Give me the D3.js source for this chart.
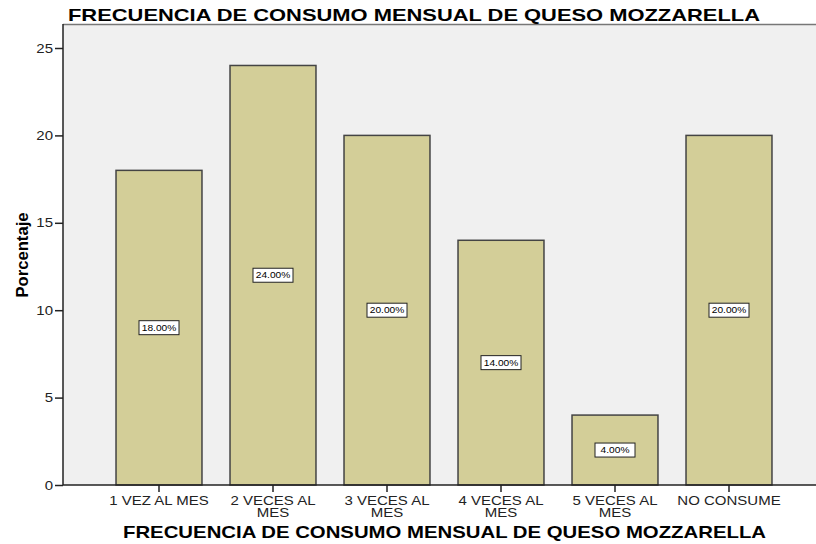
<!DOCTYPE html>
<html>
<head>
<meta charset="utf-8">
<script src="https://cdn.jsdelivr.net/npm/d3@7"></script>
<style>
  body { margin: 0; background: #fff; }
  text { font-family: Arial, "Liberation Sans", sans-serif; }
</style>
</head>
<body>
<script>
// chart data
var categories = [["1 VEZ AL MES"], ["2 VECES AL", "MES"], ["3 VECES AL", "MES"], ["4 VECES AL", "MES"], ["5 VECES AL", "MES"], ["NO CONSUME"]];
var percents = [18, 24, 20, 14, 4, 20];
var yTicks = [0, 5, 10, 15, 20, 25];
var titleText = "FRECUENCIA DE CONSUMO MENSUAL DE QUESO MOZZARELLA";

var W = 816, H = 544;
var plot = {left: 63, top: 24, right: 830, bottom: 485};
var stretch = 1.2; // reference text looks horizontally wide

var svg = d3.select("body").append("svg")
    .attr("width", W)
    .attr("height", H);

// scales
var x = d3.scaleBand()
    .domain(d3.range(categories.length))
    .range([102, 786])
    .paddingInner(0.246)
    .paddingOuter(0.123);
var y = d3.scaleLinear().domain([0, 25]).range([plot.bottom, 48]);

// plot background
svg.append("rect")
    .attr("x", plot.left).attr("y", plot.top)
    .attr("width", plot.right - plot.left).attr("height", plot.bottom - plot.top)
    .attr("fill", "#f0f0f0");
svg.append("line")
    .attr("x1", plot.left).attr("x2", plot.right)
    .attr("y1", plot.top + 0.5).attr("y2", plot.top + 0.5)
    .attr("stroke", "#777").attr("stroke-width", 1.5);

// bars
svg.selectAll(".bar")
    .data(percents)
  .enter().append("rect")
    .attr("class", "bar")
    .attr("x", function(d, i) { return x(i); })
    .attr("y", function(d) { return y(d); })
    .attr("width", x.bandwidth())
    .attr("height", function(d) { return y(0) - y(d); })
    .attr("fill", "#d3ce98")
    .attr("stroke", "#444")
    .attr("stroke-width", 1.5);

// value labels
var lab = svg.selectAll(".lab")
    .data(percents)
  .enter().append("g")
    .attr("class", "lab")
    .attr("transform", function(d, i) {
      return "translate(" + (x(i) + x.bandwidth() / 2) + "," + y(d / 2) + ")";
    });
lab.append("rect")
    .attr("x", -20).attr("y", -7)
    .attr("width", 40).attr("height", 14)
    .attr("fill", "#fff").attr("stroke", "#222").attr("stroke-width", 1);
lab.append("text")
    .attr("text-anchor", "middle")
    .attr("dy", "0.35em")
    .attr("transform", "scale(" + stretch + ",1)")
    .style("font-size", "8.5px")
    .text(function(d) { return d.toFixed(2) + "%"; });

// y axis
var yAxis = svg.append("g")
    .attr("transform", "translate(" + plot.left + ",0)")
    .call(d3.axisLeft(y).tickValues(yTicks).tickSize(8).tickPadding(2));
yAxis.select(".domain").attr("d", "M0," + plot.top + "V" + plot.bottom).attr("stroke", "#222").attr("stroke-width", 1.5);
yAxis.selectAll(".tick line").attr("stroke", "#222").attr("stroke-width", 1.5);
yAxis.selectAll(".tick text")
    .style("font-size", "12.5px").attr("fill", "#222")
    .attr("x", -10 / stretch)
    .attr("transform", "scale(" + stretch + ",1)");

// x axis
var xAxis = svg.append("g")
    .attr("transform", "translate(0," + plot.bottom + ")")
    .call(d3.axisBottom(x).tickSize(7).tickFormat(""));
xAxis.select(".domain").attr("d", "M" + plot.left + ",0H" + plot.right).attr("stroke", "#222").attr("stroke-width", 1.5);
xAxis.selectAll(".tick line").attr("stroke", "#222").attr("stroke-width", 1.5);
xAxis.selectAll(".tick").each(function(d) {
  var t = d3.select(this).append("text")
      .attr("fill", "#222")
      .attr("text-anchor", "middle")
      .attr("transform", "scale(" + stretch + ",1)")
      .style("font-size", "12.5px")
      .attr("y", 20);
  categories[d].forEach(function(line, k) {
    t.append("tspan").attr("x", 0).attr("dy", k ? 12 : 0).text(line);
  });
});

// titles
svg.append("text")
    .attr("x", 414).attr("y", 21)
    .attr("text-anchor", "middle")
    .attr("textLength", 692).attr("lengthAdjust", "spacingAndGlyphs")
    .style("font-size", "17px").style("font-weight", "bold")
    .text(titleText);
svg.append("text")
    .attr("x", 444.5).attr("y", 538)
    .attr("text-anchor", "middle")
    .attr("textLength", 643).attr("lengthAdjust", "spacingAndGlyphs")
    .style("font-size", "17px").style("font-weight", "bold")
    .text(titleText);
svg.append("text")
    .attr("transform", "translate(28,255) rotate(-90)")
    .attr("text-anchor", "middle")
    .attr("textLength", 85).attr("lengthAdjust", "spacingAndGlyphs")
    .style("font-size", "16.5px").style("font-weight", "bold")
    .text("Porcentaje");
</script>
</body>
</html>
